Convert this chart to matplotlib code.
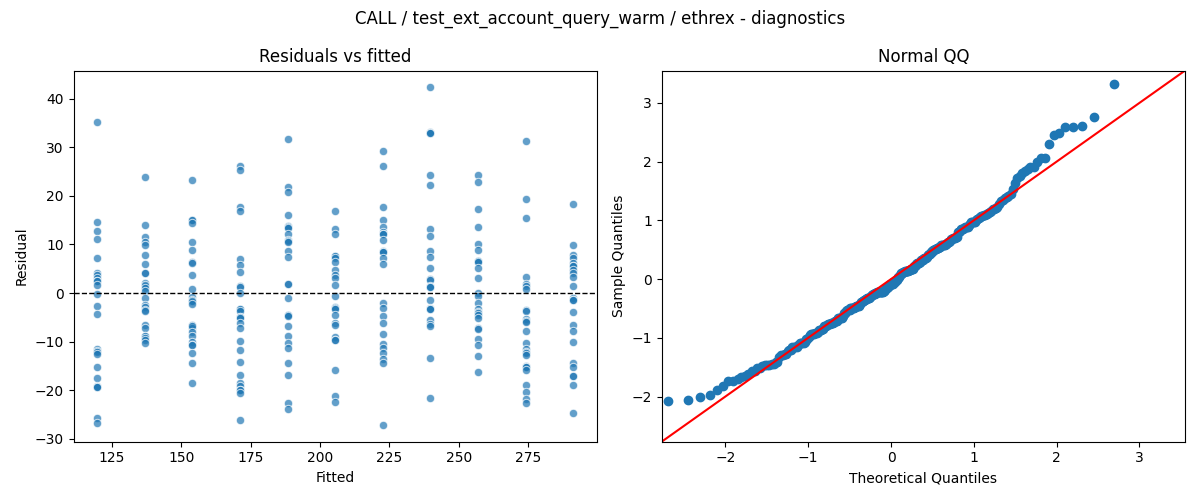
import numpy as np
import matplotlib; matplotlib.use('Agg')
import matplotlib.pyplot as plt
from statistics import NormalDist

fitted = [119.7, 136.9, 154.0, 171.2, 188.3, 205.5, 222.6, 239.8, 256.9, 274.1, 291.2]
res_g1 = [35.1, 14.6, 12.7, 11.1, 7.2, 4.2, 3.8, 3.1, 2.4, 2.5, 1.7, -0.1, -2.7, -4.3,
          -11.5, -12.0, -12.1, -12.5, -15.2, -17.4, -19.2, -19.4, -19.3, -25.7, -26.8]
res_g2 = [23.8, 14.0, 11.5, 10.6, 9.9, 7.8, 5.9, 4.2, 4.1, 2.0, 1.5, 1.6, 1.0, 0.5, -1.0,
          -2.4, -2.9, -3.4, -3.6, -6.5, -7.1, -8.9, -8.8, -9.3, -9.7, -10.3]
res_g3 = [23.2, 15.1, 15.0, 14.4, 10.6, 8.8, 6.5, 6.2, 3.7, 0.8, -0.7, -1.4, -1.8, -1.7,
          -2.3, -6.5, -7.1, -6.8, -7.9, -8.9, -10.1, -10.6, -10.7, -12.3, -14.4, -18.5]
res_g4 = [26.1, 25.3, 17.8, 16.9, 7.0, 5.8, 4.4, 1.5, 1.2, 0.1, -3.3, -3.3, -3.6, -4.9,
          -4.9, -5.1, -6.2, -7.2, -9.9, -11.6, -14.2, -16.8, -18.5, -19.2, -19.9, -19.9,
          -20.5, -26.2]
res_g5 = [31.6, 21.8, 20.7, 16.0, 13.8, 13.5, 13.4, 12.2, 11.0, 10.8, 10.6, 8.6, 7.4, 1.9,
          1.9, -1.0, -4.5, -4.5, -4.7, -6.7, -8.9, -10.3, -11.3, -14.4, -16.8, -22.6, -23.8]
res_g6 = [16.8, 13.2, 12.1, 7.7, 7.6, 7.2, 6.5, 4.8, 3.8, 3.1, 1.7, -0.5, -2.9, -3.1, -3.3,
          -4.6, -6.2, -6.6, -9.0, -9.6, -9.6, -15.8, -21.2, -22.3]
res_g7 = [29.2, 26.1, 17.7, 15.0, 13.6, 12.5, 12.2, 12.1, 11.0, 8.7, 8.5, 8.4, 7.2, 6.0,
          -2.1, -3.1, -4.8, -6.2, -8.4, -10.5, -11.2, -12.3, -13.6, -14.4, -27.1]
res_g8 = [42.3, 33.2, 33.0, 32.9, 24.2, 22.2, 13.1, 11.8, 8.6, 7.4, 5.1, 2.9, 2.7, 1.5, 1.2,
          1.2, -1.5, -3.1, -3.2, -3.3, -5.5, -6.3, -6.7, -13.4, -21.6]
res_g9 = [24.2, 22.8, 17.3, 13.6, 10.1, 8.8, 6.7, 6.6, 6.4, 5.1, 3.1, 0.0, -0.6, -2.1, -3.3,
          -3.9, -4.1, -4.5, -5.1, -7.2, -7.4, -9.5, -10.7, -13.0, -16.2]
res_g10 = [31.2, 19.3, 15.4, 3.4, 1.9, 1.4, 0.9, -3.4, -3.6, -5.3, -5.8, -6.0, -7.7, -10.3,
           -11.5, -12.2, -12.3, -12.7, -14.9, -15.2, -15.3, -15.8, -19.0, -20.4, -21.8, -22.6]
res_g11 = [18.3, 9.9, 7.9, 7.2, 6.2, 5.5, 5.5, 4.8, 4.2, 3.3, 1.4, -1.0, -1.4, -1.5, -3.9,
           -6.6, -7.7, -10.1, -14.4, -15.3, -17.0, -17.1, -19.0, -24.7]
groups = [res_g1, res_g2, res_g3, res_g4, res_g5, res_g6, res_g7, res_g8, res_g9, res_g10, res_g11]

x = np.concatenate([[f] * len(g) for f, g in zip(fitted, groups)])
resid = np.concatenate(groups)

fig, (ax1, ax2) = plt.subplots(1, 2, figsize=(12, 5), dpi=100)

ax1.scatter(x, resid, s=36, color='#1f77b4', alpha=0.7, edgecolor='white', linewidth=0.75)
ax1.axhline(0, color='black', linestyle='--', linewidth=1)
ax1.set_title('Residuals vs fitted')
ax1.set_xlabel('Fitted'); ax1.set_ylabel('Residual')

# normal QQ of the standardised residuals, plotting positions i/(n+1)
z = np.sort((resid - resid.mean()) / resid.std())
n = len(z)
theo = np.array([NormalDist().inv_cdf(i / (n + 1)) for i in range(1, n + 1)])
ax2.plot(theo, z, 'o', color='#1f77b4', markersize=6)
lims = (-2.77, 3.55)
ax2.plot(lims, lims, color='red')
ax2.set_xlim(lims); ax2.set_ylim(lims)
ax2.set_title('Normal QQ')
ax2.set_xlabel('Theoretical Quantiles'); ax2.set_ylabel('Sample Quantiles')

fig.suptitle('CALL / test_ext_account_query_warm / ethrex - diagnostics')
plt.tight_layout()
plt.savefig('out.png')
print('saved out.png', n, z.min(), z.max())
